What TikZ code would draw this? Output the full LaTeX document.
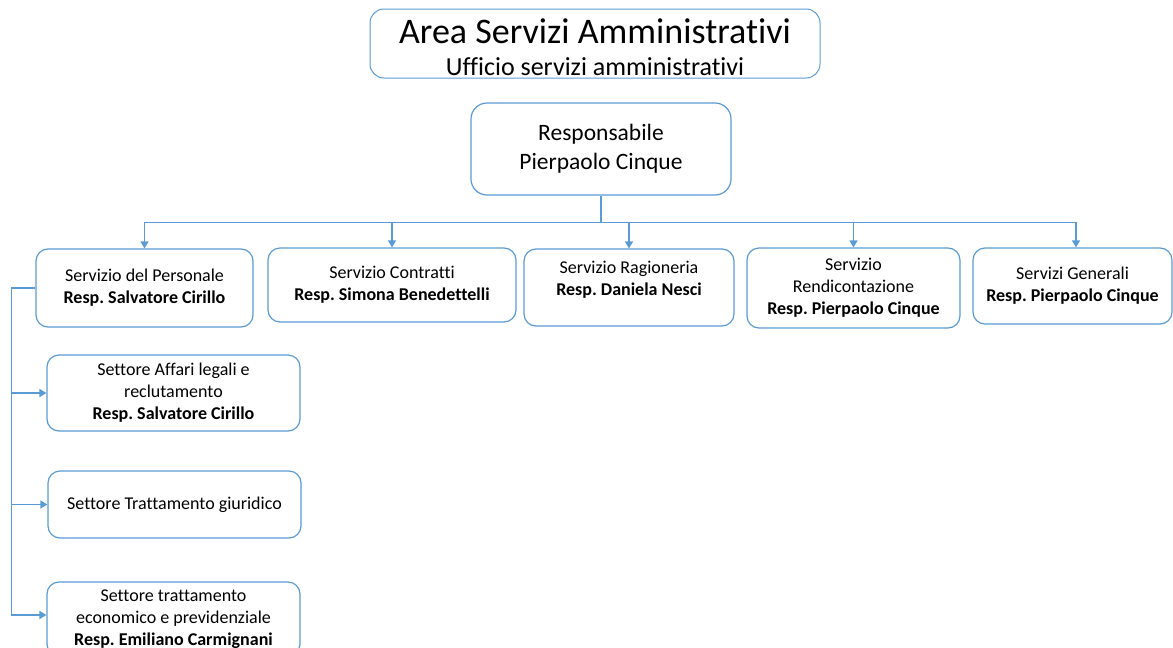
\documentclass[tikz,border=0pt]{standalone}
\usepackage{fontspec}
\setmainfont{Carlito}[Ligatures=NoCommon]
\usetikzlibrary{arrows.meta,calc}
\definecolor{ob}{HTML}{5B9BD5}
\frenchspacing
\begin{document}
\begin{tikzpicture}[x=1pt,y=-1pt,
  box/.style={draw=ob, line width=1.2pt, rounded corners=12pt, fill=white, align=center, inner sep=0pt, font=\fontsize{18}{22}\selectfont\frenchspacing},
  conn/.style={draw=ob, line width=1.5pt},
  arr/.style={conn, -{Triangle[length=7pt,width=8pt]}}]
\useasboundingbox (0,0) rectangle (1173,648);
\clip (0,0) rectangle (1173,648);
% title
\node[box, line width=1pt, rounded corners=14pt, minimum width=450pt, minimum height=69pt, font=\fontsize{26}{32}\selectfont] (title) at (595,43.5)
  {{\fontsize{36}{32}\selectfont\rule{0pt}{32pt}Area Servizi Amministrativi}\\Ufficio servizi amministrativi};
% head
\node[box, rounded corners=16pt, minimum width=260pt, minimum height=92pt, font=\fontsize{23.5}{29}\selectfont] (resp) at (601,149)
  {Responsabile\\Pierpaolo Cinque};
% services
\node[box, minimum width=217pt, minimum height=78pt] (s1) at (144.5,288)
  {Servizio del Personale\\\textbf{Resp. Salvatore Cirillo}};
\node[box, minimum width=248pt, minimum height=74pt] (s2) at (392,285)
  {Servizio Contratti\\\textbf{Resp. Simona Benedettelli}};
\node[box, minimum width=210pt, minimum height=77pt] (s3) at (629,287.5)
  {Servizio Ragioneria\\\textbf{Resp. Daniela Nesci}\\[-4pt]\mbox{}};
\node[box, minimum width=213pt, minimum height=80pt] (s4) at (853.5,288)
  {Servizio\\Rendicontazione\\\textbf{Resp. Pierpaolo Cinque}};
\node[box, minimum width=199pt, minimum height=76pt] (s5) at (1072.5,286)
  {Servizi Generali\\\textbf{Resp. Pierpaolo Cinque}};
% sectors
\node[box, minimum width=253pt, minimum height=76pt] (a) at (173.5,393)
  {Settore Affari legali e\\reclutamento\\\textbf{Resp. Salvatore Cirillo}};
\node[box, minimum width=253pt, minimum height=67pt] (b) at (174.5,504.5)
  {Settore Trattamento giuridico};
\node[box, minimum width=253pt, minimum height=74pt] (c) at (173.5,619)
  {Settore trattamento\\economico e previdenziale\\\textbf{Resp. Emiliano Carmignani}};
% connectors
\draw[conn] (resp.south) -- ++(0,27) coordinate (hub);
\draw[arr] (hub) -| (s1.north);
\draw[arr] (hub) -| (s2.north);
\draw[arr] (hub) -| (s3.north);
\draw[arr] (hub) -| (s4.north);
\draw[arr] (hub) -| ([xshift=3.5pt]s5.north);
\draw[conn] (s1.west) -- ++(-24,0) coordinate (lt);
\draw[arr] (lt) |- (a.west);
\draw[arr] (lt) |- (b.west);
\draw[arr] (lt) |- ([yshift=4pt]c.west);
\end{tikzpicture}
\end{document}
